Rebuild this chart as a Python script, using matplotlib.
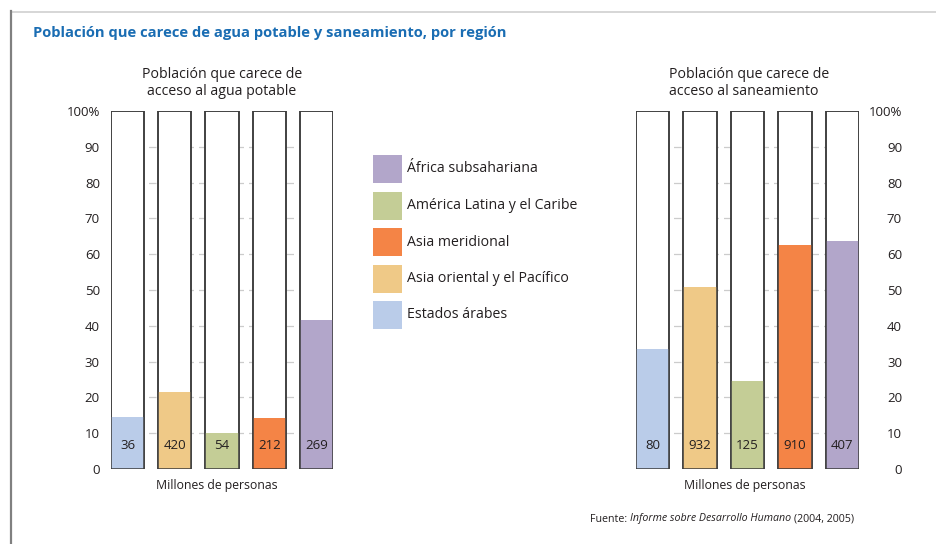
import matplotlib
matplotlib.use("Agg")
import matplotlib.pyplot as plt
from matplotlib.patches import Rectangle
from matplotlib.lines import Line2D

plt.rcParams['font.family'] = ['Open Sans', 'DejaVu Sans']

# ---- data ----
regions = ["Estados árabes", "Asia oriental y el Pacífico", "América Latina y el Caribe",
           "Asia meridional", "África subsahariana"]
colors = ["#BACCE9", "#EFC987", "#C4CD96", "#F48446", "#B2A6CA"]
water_pct = [14.5, 21.5, 10.0, 14.3, 41.5]
water_millions = ["36", "420", "54", "212", "269"]
sanit_pct = [33.5, 50.8, 24.6, 62.6, 63.7]
sanit_millions = ["80", "932", "125", "910", "407"]
yticks = [0, 10, 20, 30, 40, 50, 60, 70, 80, 90, 100]
ytick_labels = ["0", "10", "20", "30", "40", "50", "60", "70", "80", "90", "100%"]
legend_order = [4, 2, 3, 1, 0]

W, H = 937, 544
fig = plt.figure(figsize=(W / 100, H / 100), dpi=100)

def fx(px):
    return px / W

def fy(py):
    return 1 - py / H

TXT = "#231f20"
OUT = "#3c3c3c"
BW = 0.70

def draw_panel(left_px, right_px, pct, labels, side):
    ax = fig.add_axes([fx(left_px), fy(469), fx(right_px - left_px), (469 - 111) / H])
    x = list(range(len(pct)))
    ax.bar(x, [100] * len(pct), width=BW, color="white", edgecolor=OUT, linewidth=1.1, zorder=3)
    ax.bar(x, pct, width=BW, color=colors, edgecolor="none", linewidth=0, zorder=4)
    ax.bar(x, [100] * len(pct), width=BW, color="none", edgecolor=OUT, linewidth=1.1, zorder=5)
    for xi, lab in zip(x, labels):
        ax.text(xi, 6.5, lab, ha="center", va="center", fontsize=9.5, color=TXT, zorder=6)
    for t in yticks[1:-1]:
        ax.axhline(t, color="#cccccc", lw=0.9, ls=(0, (6, 4)), zorder=1)
    ax.set_xlim(-BW / 2, len(pct) - 1 + BW / 2)
    ax.set_ylim(0, 100)
    ax.set_xticks([])
    ax.set_yticks(yticks)
    ax.set_yticklabels(ytick_labels, fontsize=9.5, color=TXT)
    for s in ax.spines.values():
        s.set_visible(False)
    if side == "left":
        ax.tick_params(axis="y", length=0, pad=8)
    else:
        ax.yaxis.tick_right()
        ax.tick_params(axis="y", length=0, pad=31)
        for lbl in ax.get_yticklabels():
            lbl.set_ha("right")
    ax.set_facecolor("none")
    return ax

draw_panel(111, 333, water_pct, water_millions, "left")
draw_panel(636, 859, sanit_pct, sanit_millions, "right")

# frame lines
fig.add_artist(Line2D([fx(11), fx(937)], [fy(11.5), fy(11.5)], color="#d0d0d0", lw=1.2))
fig.add_artist(Line2D([fx(11.5), fx(11.5)], [fy(11), fy(544)], color="#808080", lw=1.6))

# title
fig.text(fx(33), fy(33), "Población que carece de agua potable y saneamiento, por región",
         fontsize=10.6, fontweight="bold", color="#1a6db3", ha="left", va="center")

# subtitles
fig.text(fx(222), fy(83), "Población que carece de\nacceso al agua potable",
         fontsize=10.2, color=TXT, ha="center", va="center", linespacing=1.15)
fig.text(fx(669), fy(83), "Población que carece de\nacceso al saneamiento",
         fontsize=10.2, color=TXT, ha="left", va="center", linespacing=1.15)

fig.text(fx(217), fy(486), "Millones de personas", fontsize=8.8, color=TXT, ha="center", va="center")
fig.text(fx(745), fy(486), "Millones de personas", fontsize=8.8, color=TXT, ha="center", va="center")

# legend
for i, idx in enumerate(legend_order):
    top = 155 + i * 36.5
    fig.add_artist(Rectangle((fx(373), fy(top + 28)), fx(29), 28 / H,
                             facecolor=colors[idx], edgecolor="none", transform=fig.transFigure))
    fig.text(fx(407), fy(top + 14), regions[idx], fontsize=10.2, color=TXT, ha="left", va="center")

# source
t1 = fig.text(fx(590), fy(519), "Fuente: ", fontsize=7.7, color=TXT, ha="left", va="center")
fig.canvas.draw()
r = fig.canvas.get_renderer()
bb = t1.get_window_extent(r)
t2 = fig.text(bb.x1 / W, fy(519), "Informe sobre Desarrollo Humano", fontsize=7.7, style="italic",
              color=TXT, ha="left", va="center")
bb2 = t2.get_window_extent(r)
fig.text(bb2.x1 / W + 3 / W, fy(519), "(2004, 2005)", fontsize=7.7, color=TXT, ha="left", va="center")

fig.savefig("out.png", dpi=100)
